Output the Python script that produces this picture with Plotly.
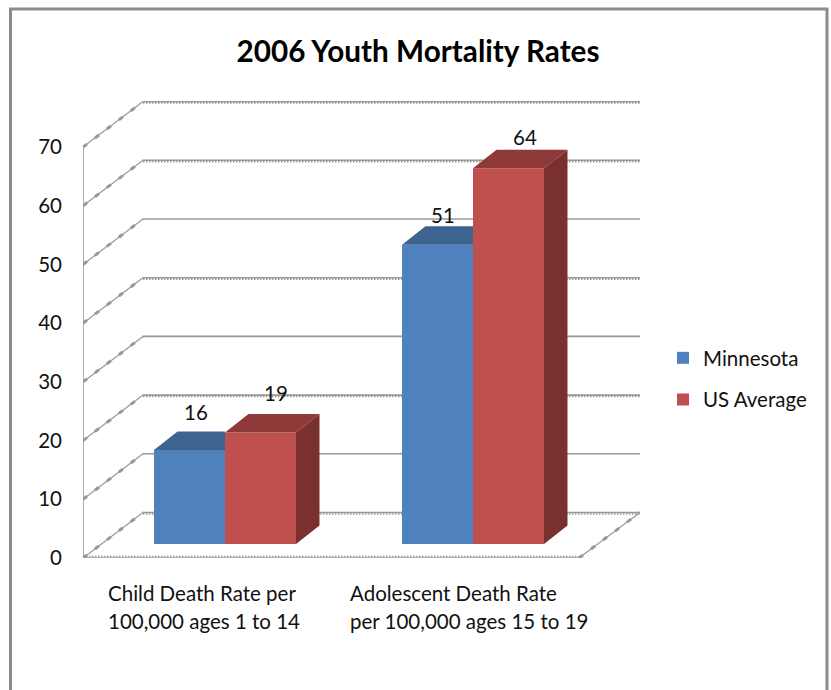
import plotly.graph_objects as go

# Chart data
categories = [
    ["Child Death Rate per", "100,000 ages 1 to 14"],
    ["Adolescent Death Rate", "per 100,000 ages 15 to 19"],
]
minnesota = [16, 51]
us_average = [19, 64]
y_ticks = [0, 10, 20, 30, 40, 50, 60, 70]
dotted_levels = [0, 20, 40, 60, 70]
chart_title = "2006 Youth Mortality Rates"

# Canvas and plot box, px
W, H = 831, 690
L, R, T, B = 83, 640, 101, 558
PX_X = 248.0      # px per category
PX_Y = 5.87       # px per rate unit
X_MAX = (R - L) / PX_X
Y_MAX = (B - T) / PX_Y

# Oblique projection offsets in axis units
WALL_DX, WALL_DY = 60 / PX_X, 45.5 / PX_Y
BAR_DX, BAR_DY = 23.5 / PX_X, 18.5 / PX_Y
BAR_BASE = 14 / PX_Y
BAR_W = 71 / PX_X
GROUP_CENTRE = [0.5726, 1.5726]

FONT = "Lato"
TEXT_SIZE = 20.5
INK = "#111111"
GRID = "#989898"
BLUE, BLUE_TOP = "#4f81bd", "#3d6390"
RED, RED_TOP, RED_SIDE = "#c0504d", "#8f3a38", "#7a302e"

fig = go.Figure()

x_blue = [c - BAR_W / 2 for c in GROUP_CENTRE]
x_red = [c + BAR_W / 2 for c in GROUP_CENTRE]
fig.add_bar(name="Minnesota", x=x_blue, y=minnesota, base=BAR_BASE, width=BAR_W,
            marker=dict(color=BLUE, line_width=0), legendgroup="a")
fig.add_bar(name="US Average", x=x_red, y=us_average, base=BAR_BASE, width=BAR_W,
            marker=dict(color=RED, line_width=0), legendgroup="b")


def face(xs, ys, color):
    fig.add_scatter(x=xs, y=ys, mode="lines", fill="toself", fillcolor=color,
                    line=dict(width=0, color=color), hoverinfo="skip", showlegend=False)


# Top faces of the bars; the blue one stops where the red front begins
for c, v in zip(x_blue, minnesota):
    l, r, t = c - BAR_W / 2, c + BAR_W / 2, BAR_BASE + v
    face([l, l + BAR_DX, r, r, l], [t, t + BAR_DY, t + BAR_DY, t, t], BLUE_TOP)
for c, v in zip(x_red, us_average):
    l, r, t = c - BAR_W / 2, c + BAR_W / 2, BAR_BASE + v
    face([l, l + BAR_DX, r + BAR_DX, r, l], [t, t + BAR_DY, t + BAR_DY, t, t], RED_TOP)
    face([r, r + BAR_DX, r + BAR_DX, r, r],
         [BAR_BASE, BAR_BASE + BAR_DY, t + BAR_DY, t, BAR_BASE], RED_SIDE)

shapes = []


def seg(x0, y0, x1, y1, width=1.6, dash="solid", color=GRID):
    shapes.append(dict(type="line", layer="below", xref="x", yref="y", x0=x0, y0=y0, x1=x1, y1=y1,
                       line=dict(color=color, width=width, dash=dash)))


# Wall gridlines with their oblique run-in on the side wall
for v in y_ticks:
    seg(0, v, WALL_DX, v + WALL_DY, width=1.2)
    seg(0, v, WALL_DX, v + WALL_DY, width=3, dash="5px,10px")
    seg(WALL_DX, v + WALL_DY, X_MAX, v + WALL_DY)
    if v in dotted_levels:
        seg(WALL_DX, v + WALL_DY - 0.25, X_MAX, v + WALL_DY - 0.25, width=1.6, dash="1.5px,1.5px")

# Side wall edge and floor outline
seg(0, 0, 0, y_ticks[-1])
seg(0, 0, 2, 0)
seg(0, 0.25, 2, 0.25, width=1.6, dash="1.5px,1.5px")
seg(2, 0, X_MAX, WALL_DY, width=1.2)
seg(2, 0, X_MAX, WALL_DY, width=3, dash="5px,10px")

# Chart area border, running off the bottom of the canvas
shapes.append(dict(type="rect", xref="paper", yref="paper", layer="below",
                   x0=(10.5 - L) / (R - L), x1=(827 - L) / (R - L),
                   y0=(B - 700) / (B - T), y1=(B - 9) / (B - T),
                   line=dict(color="#8c8c8c", width=3)))

annotations = []

# Data labels sit just above each bar's rear top edge
label_shift = {(0, 0): (6, 20), (0, 1): (15, 21), (1, 0): (5, 11), (1, 1): (16, 13)}
for s, (xs, vals) in enumerate([(x_blue, minnesota), (x_red, us_average)]):
    for i, (c, v) in enumerate(zip(xs, vals)):
        dx, dy = label_shift[(i, s)]
        annotations.append(dict(x=c, y=BAR_BASE + v + BAR_DY, text=str(v), showarrow=False,
                                xshift=dx, yshift=dy, xanchor="center", yanchor="middle",
                                font=dict(family=FONT, size=TEXT_SIZE, color=INK)))

# Category labels, two left-aligned lines under each group
label_left = [106, 348]
line_y = [593, 621]
for lines, left in zip(categories, label_left):
    for text, py in zip(lines, line_y):
        annotations.append(dict(xref="paper", yref="paper", x=(left - L) / (R - L),
                                y=(B - py) / (B - T), text=text, showarrow=False,
                                xanchor="left", yanchor="middle",
                                font=dict(family=FONT, size=TEXT_SIZE, color=INK)))

fig.update_layout(
    width=W, height=H, autosize=False,
    margin=dict(l=L, r=W - R, t=T, b=H - B),
    paper_bgcolor="white", plot_bgcolor="white",
    barmode="overlay",
    title=dict(text="<b>" + chart_title + "</b>", x=418 / W, xanchor="center", xref="container",
               y=1 - 52 / H, yanchor="middle",
               font=dict(family=FONT, size=29.7, color="#000000")),
    xaxis=dict(range=[0, X_MAX], showgrid=False, zeroline=False, showticklabels=False,
               ticks="", showline=False, fixedrange=True),
    yaxis=dict(range=[0, Y_MAX], showgrid=False, zeroline=False, showline=False, ticks="",
               tickvals=y_ticks, ticklabelstandoff=20, fixedrange=True,
               tickfont=dict(family=FONT, size=TEXT_SIZE, color=INK)),
    legend=dict(x=(663 - L) / (R - L), xref="paper", xanchor="left",
                y=(B - 338) / (B - T), yanchor="top",
                font=dict(family=FONT, size=TEXT_SIZE, color=INK),
                tracegroupgap=12, bgcolor="rgba(0,0,0,0)", traceorder="grouped"),
    shapes=shapes, annotations=annotations,
    showlegend=True,
)

fig.write_html("out.html")
